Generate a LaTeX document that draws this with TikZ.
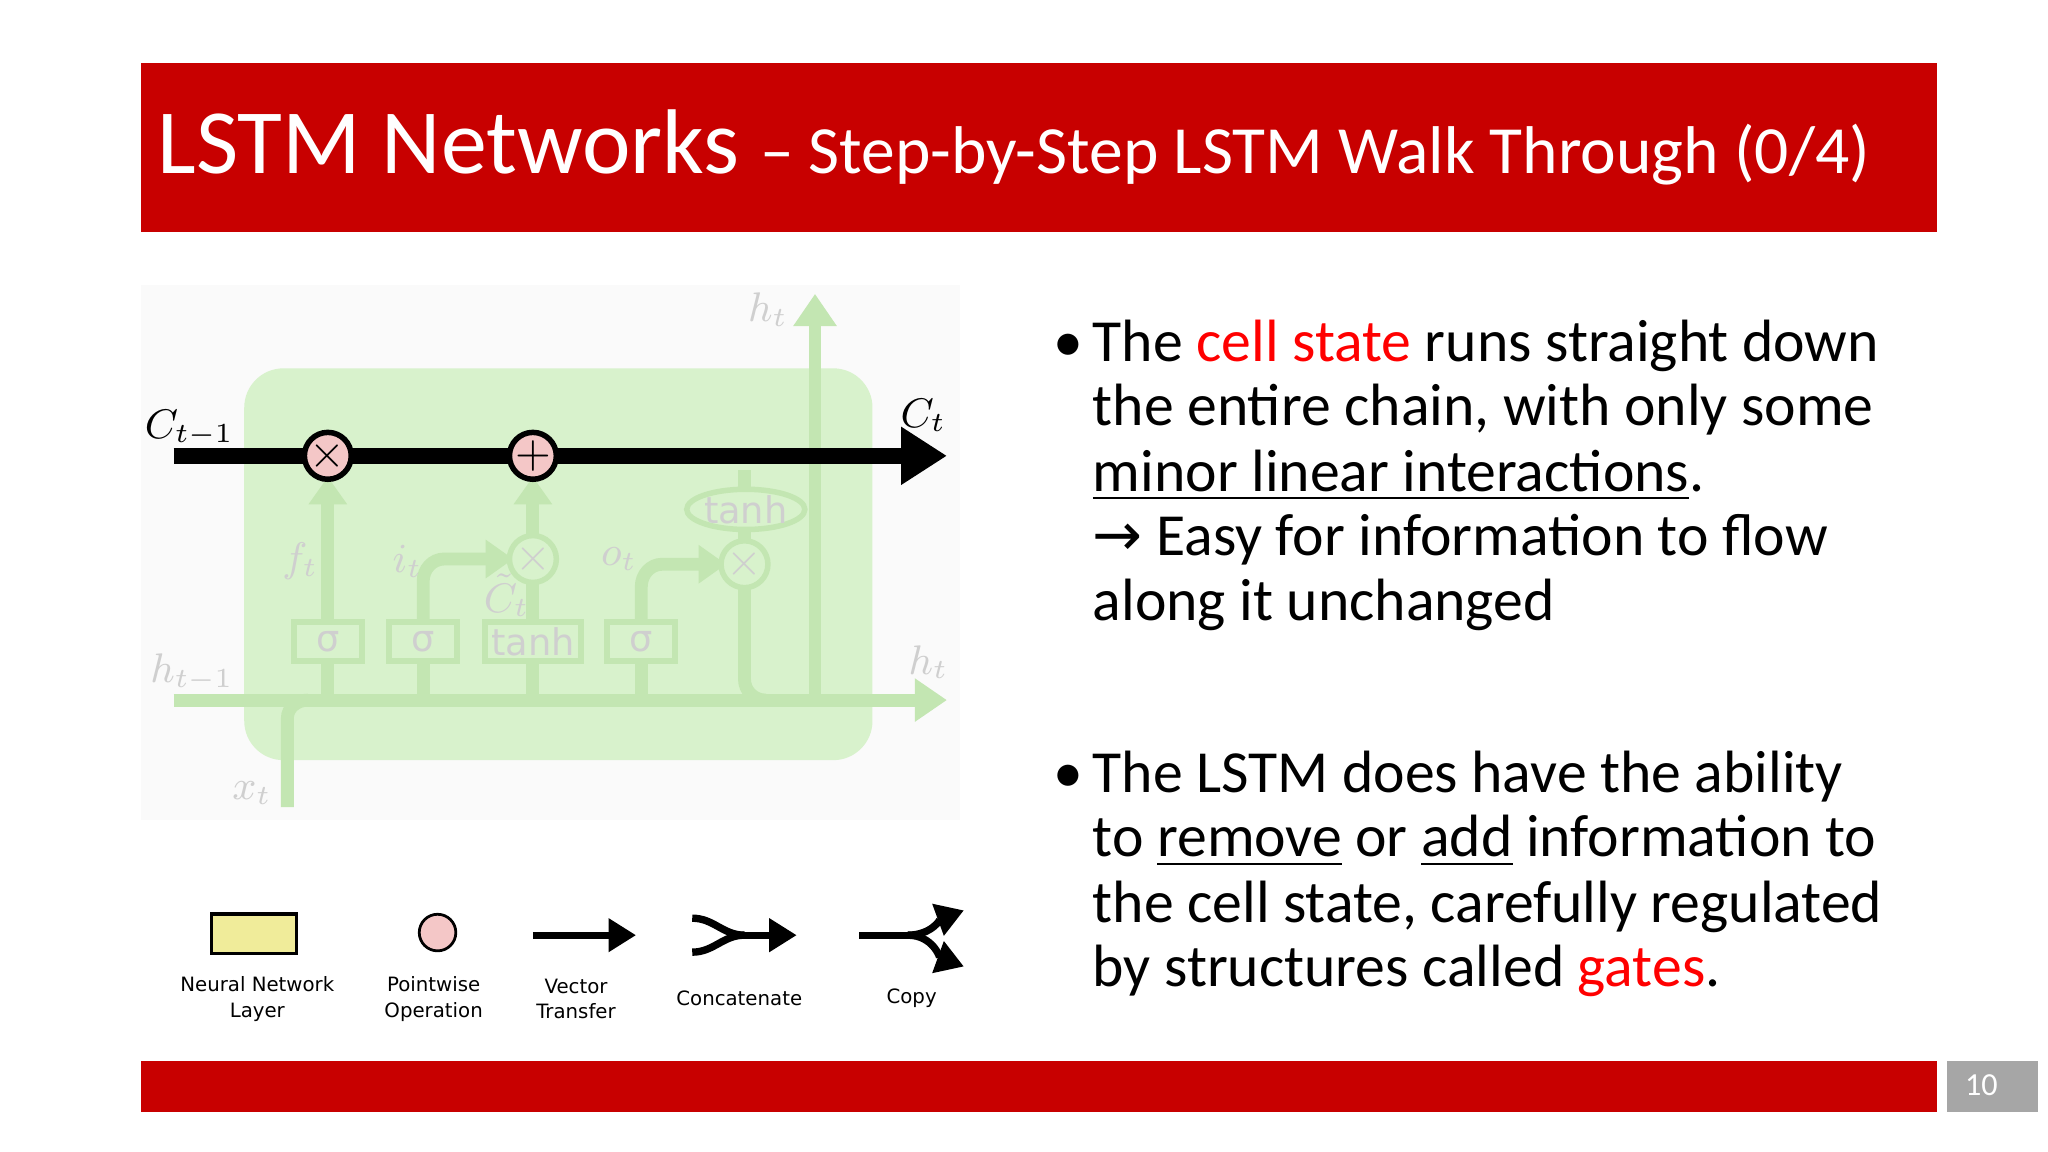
\documentclass[tikz,border=0pt]{standalone}
\usepackage{fontspec}
\setmainfont{Carlito}
\newfontfamily\legfont{DejaVu Sans}
\usetikzlibrary{arrows.meta,shapes.geometric}
\definecolor{brand}{HTML}{C80000}
\definecolor{fgreen}{HTML}{D8F2CC}
\definecolor{fline}{HTML}{C3E6B2}
\definecolor{flab}{HTML}{CFCFCF}
\definecolor{pinkc}{HTML}{F4C7C7}
\definecolor{ylw}{HTML}{F0EC9A}
\tikzset{
 fl/.style={draw=fline,line width=2.8pt},
 fbox/.style={draw=fline,line width=1.3pt,fill=fgreen,minimum height=0.3cm,inner sep=0pt,text=flab,font=\legfont\fontsize{8}{8}\selectfont},
 fcirc/.style={circle,draw=fline,line width=1.2pt,minimum size=0.3cm,inner sep=0pt,text=flab},
 flab/.style={text=flab,font=\fontsize{9}{9}\selectfont},
 bul/.style={anchor=base west,inner sep=0pt,font=\fontsize{13}{15}\selectfont},
 leg/.style={font=\legfont\fontsize{4.3}{5.5}\selectfont,align=center,inner sep=0pt},
}
\begin{document}
\begin{tikzpicture}[x=0.01cm,y=-0.01cm]
\useasboundingbox (0,0) rectangle (1568,882);
\fill[white] (0,0) rectangle (1568,882);
% banners
\fill[brand] (108,48) rectangle (1483,178);
\node[anchor=base west,text=white,inner sep=0pt] (title) at (120,133)
 {\fontsize{20}{20}\selectfont LSTM Networks \fontsize{14.7}{14}\selectfont -- Step-by-Step LSTM Walk Through (0/4)};
\fill[brand] (108,812) rectangle (1483,851);
\fill[black!35] (1491,812) rectangle (1560,851);
\node[text=white,font=\fontsize{7}{8}\selectfont] (pg) at (1517,831) {10};
% diagram background
\fill[black!2] (108,218) rectangle (735,628);
\fill[fgreen,rounded corners=0.3cm] (187,282) rectangle (668,582);
% faded lines
\draw[fl,-{Triangle[length=7pt,width=9pt]}] (133,536) -- (725,536);
\draw[fl] (220,618) -- (220,550) to[out=90,in=180] (236,536);
\draw[fl,-{Triangle[length=7pt,width=9pt]}] (624,536) -- (624,225);
\draw[fl] (570,447) -- (570,520) to[out=-90,in=180] (586,536);
\draw[fl] (251,536) -- (251,506);
\draw[fl] (324,536) -- (324,506);
\draw[fl] (408,536) -- (408,506);
\draw[fl] (491,536) -- (491,506);
\draw[fl,-{Triangle[length=6pt,width=8pt]}] (324,476) -- (324,445) to[out=90,in=180] (340,428) -- (393,428);
\draw[fl,-{Triangle[length=6pt,width=8pt]}] (491,476) -- (491,449) to[out=90,in=180] (507,432) -- (556,432);
\draw[fl] (408,476) -- (408,442);
\draw[fl] (570,417) -- (570,404);
\draw[fl] (570,376) -- (570,360);
\draw[fl,-{Triangle[length=6pt,width=8pt]}] (408,414) -- (408,365);
\draw[fl,-{Triangle[length=6pt,width=8pt]}] (251,476) -- (251,365);
\node[fbox,minimum width=0.52cm] (s1) at (251,491) {σ};
\node[fbox,minimum width=0.52cm] (s2) at (324,491) {σ};
\node[fbox,minimum width=0.73cm] (th) at (408,491) {tanh};
\node[fbox,minimum width=0.52cm] (s3) at (491,491) {σ};
\node[fcirc,fill=fgreen] (m1) at (408,428) {$\times$};
\node[fcirc,fill=fgreen] (m2) at (570,432) {$\times$};
\node[ellipse,draw=fline,line width=1.2pt,fill=fgreen,minimum width=0.72cm,minimum height=0.28cm,inner sep=0pt,text=flab,font=\legfont\fontsize{8}{8}\selectfont] (t2) at (571,390) {tanh};
\node[flab] (lft) at (230,430) {$f_t$};
\node[flab] (lit) at (312,430) {$i_t$};
\node[flab,inner sep=0pt] (lct) at (388,456) {$\tilde{C}_t$};
\node[flab] (lot) at (474,428) {$o_t$};
\node[flab] (lh1) at (147,515) {$h_{t-1}$};
\node[flab] (lh2) at (711,507) {$h_t$};
\node[flab] (lh3) at (588,237) {$h_t$};
\node[flab] (lx) at (193,607) {$x_t$};
% cell state
\draw[line width=3.5pt,-{Triangle[length=10pt,width=12pt]}] (133,349) -- (725,349);
\node[circle,draw=black,line width=1.2pt,fill=pinkc,minimum size=0.3cm,inner sep=0pt] (c1) at (251,349) {$\times$};
\node[circle,draw=black,line width=1.2pt,fill=pinkc,minimum size=0.3cm,inner sep=0pt] (c2) at (408,349) {$+$};
\node[font=\fontsize{9}{9}\selectfont] (lc1) at (145,328) {$C_{t-1}$};
\node[font=\fontsize{9}{9}\selectfont] (lc2) at (707,318) {$C_t$};
% legend
\draw[line width=0.8pt,fill=ylw] (162,700) rectangle (227,730);
\node[circle,draw,line width=0.6pt,fill=pinkc,minimum size=0.28cm,inner sep=0pt] (lp) at (335,714) {};
\coordinate (a1) at (408,716); \coordinate (a2) at (487,716);
\draw[line width=1.6pt,-{Triangle[length=6pt,width=7pt]}] (a1) -- (a2);
\coordinate (b1) at (530,703); \coordinate (b2) at (530,729); \coordinate (b3) at (610,716);
\draw[line width=1.6pt] (b1) to[out=0,in=180] (570,716);
\draw[line width=1.6pt] (b2) to[out=0,in=180] (570,716);
\draw[line width=1.6pt,-{Triangle[length=6pt,width=7pt]}] (570,716) -- (b3);
\coordinate (d1) at (658,716); \coordinate (d2) at (738,697); \coordinate (d3) at (738,740);
\draw[line width=1.6pt] (d1) -- (695,716);
\draw[line width=1.6pt,-{Triangle[length=6pt,width=7pt]}] (695,716) to[out=0,in=200] (d2);
\draw[line width=1.6pt,-{Triangle[length=6pt,width=7pt]}] (695,716) to[out=0,in=160] (d3);
\node[leg] (g1) at (197,765) {Neural Network\\Layer};
\node[leg] (g2) at (332,765) {Pointwise\\Operation};
\node[leg] (g3) at (441,765) {Vector\\Transfer};
\node[leg] (g4) at (566,764) {Concatenate};
\node[leg] (g5) at (698,764) {Copy};
% bullets
\node[bul] (bb1) at (806,277) {•};
\node[bul] (l1) at (836,277) {The \textcolor{red}{cell state} runs straight down};
\node[bul] (l2) at (836,326) {the entire chain, with only some};
\node[bul] (l3) at (836,376) {\underline{minor linear interactions}.};
\node[bul] (l4) at (836,425) {{\legfont →} Easy for information to flow};
\node[bul] (l5) at (836,475) {along it unchanged};
\node[bul] (bb2) at (806,607) {•};
\node[bul] (m1l) at (836,607) {The LSTM does have the ability};
\node[bul] (m2l) at (836,656) {to \underline{remove} or \underline{add} information to};
\node[bul] (m3l) at (836,706) {the cell state, carefully regulated};
\node[bul] (m4l) at (836,755) {by structures called \textcolor{red}{gates}.};
\end{tikzpicture}
\end{document}
